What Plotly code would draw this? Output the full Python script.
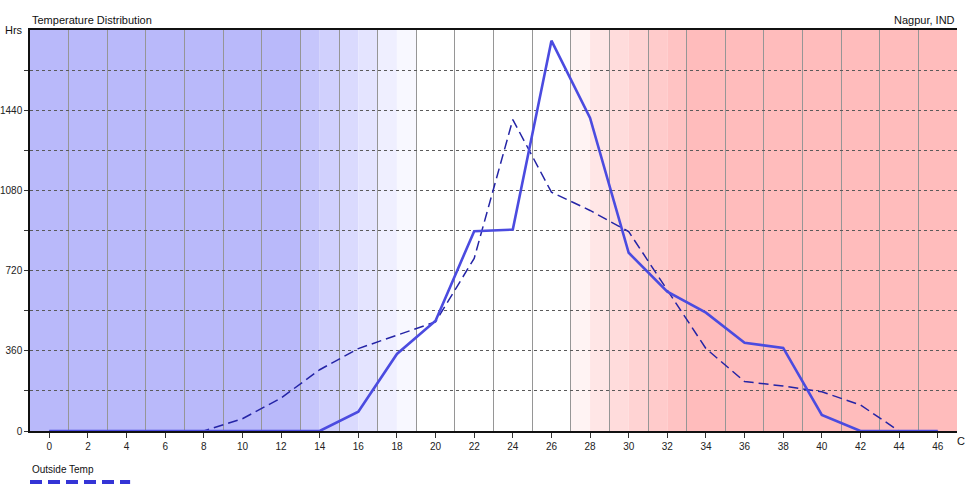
import plotly.graph_objects as go

# ---- data ----
temps = [0, 2, 4, 6, 8, 10, 12, 14, 16, 18, 20, 22, 24, 26, 28, 30, 32, 34, 36, 38, 40, 42, 44, 46]
hours_solid = [0, 0, 0, 0, 0, 0, 0, 0, 87, 346, 495, 897, 904, 1752, 1405, 800, 625, 531, 396, 373, 72, 0, 0, 0]
hours_outside = [0, 0, 0, 0, 0, 55, 148, 275, 370, 430, 490, 775, 1398, 1072, 990, 895, 630, 370, 222, 202, 176, 117, 0, 0]
x_ticks = list(range(0, 47, 2))
x_grid = list(range(-1, 48, 2))
y_ticks = [0, 360, 720, 1080, 1440]
y_minor = [180, 540, 900, 1260, 1620]

# background comfort bands (per degree)
band_edges = [-1, 13, 14, 15, 16, 17, 18, 19, 27, 28, 29, 30, 31, 32, 33, 47]
band_colors = ["#b9b9fa", "#c6c6fc", "#d0d0fd", "#dadafe", "#e4e4ff", "#efefff", "#f8f8ff",
               "#ffffff", "#fff3f3", "#ffe6e6", "#ffdcdc", "#ffd3d3", "#ffcbcb", "#ffc3c3", "#ffbcbc"]

FONT = "Liberation Sans Narrow, Liberation Sans, Arial, sans-serif"

fig = go.Figure()

fig.add_trace(go.Scatter(
    x=temps, y=hours_outside, mode="lines", name="Outside Temp",
    line=dict(color="#2424a6", width=1.5, dash="10px,5px"),
    showlegend=False,
))
fig.add_trace(go.Scatter(
    x=temps, y=hours_solid, mode="lines", name="Temperature",
    line=dict(color="#4b4be0", width=2.6),
    showlegend=False,
))

shapes = []
for i, c in enumerate(band_colors):
    shapes.append(dict(type="rect", xref="x", yref="y", x0=band_edges[i], x1=band_edges[i + 1],
                       y0=0, y1=1800, fillcolor=c, line=dict(width=0), layer="below"))
# legend sample (decoration)
shapes.append(dict(type="line", xref="paper", yref="paper", x0=0.0, x1=0.108, y0=-0.127, y1=-0.127,
                   line=dict(color="#3434d6", width=4, dash="12px,6px")))

fig.update_layout(
    width=971, height=486,
    margin=dict(l=30, r=14, t=30, b=55),
    paper_bgcolor="white", plot_bgcolor="white",
    font=dict(family=FONT, size=10, color="#222"),
    shapes=shapes,
    xaxis=dict(
        range=[-1, 47], tickvals=x_ticks, ticktext=[str(v) for v in x_ticks],
        showgrid=False, zeroline=False, automargin=False,
        showline=True, linecolor="#111", linewidth=1.5, mirror=True,
        ticks="outside", ticklen=5, tickcolor="#333",
        minor=dict(tickvals=x_grid, showgrid=True, gridcolor="#969696", gridwidth=1, ticks=""),
        tickfont=dict(family=FONT, size=10, color="#222"),
    ),
    yaxis=dict(
        range=[0, 1800], tickvals=y_ticks, ticktext=[str(v) for v in y_ticks],
        showgrid=True, gridcolor="#5a5a5a", gridwidth=1, griddash="dot", zeroline=False,
        showline=True, linecolor="#111", linewidth=1.5, automargin=False,
        ticks="outside", ticklen=4, tickcolor="#333",
        minor=dict(tickvals=y_minor, showgrid=True, gridcolor="#5a5a5a",
                   griddash="dot", ticks="outside", ticklen=4, tickcolor="#333"),
        tickfont=dict(family=FONT, size=10, color="#222"),
    ),
    annotations=[
        dict(text="Temperature Distribution", xref="paper", yref="paper", x=0, y=1, xanchor="left",
             yanchor="bottom", yshift=2, showarrow=False, font=dict(family=FONT, size=11, color="#111")),
        dict(text="Nagpur, IND", xref="paper", yref="paper", x=1, y=1, xanchor="right",
             yanchor="bottom", yshift=2, showarrow=False, font=dict(family=FONT, size=11, color="#111")),
        dict(text="Hrs", xref="paper", yref="paper", x=0, y=1, xanchor="right", xshift=-5,
             yanchor="middle", showarrow=False, font=dict(family=FONT, size=11, color="#111")),
        dict(text="C", xref="paper", yref="paper", x=1, y=0, xanchor="left", xshift=-2,
             yanchor="top", yshift=-2, showarrow=False, font=dict(family=FONT, size=11, color="#111")),
        dict(text="Outside Temp", xref="paper", yref="paper", x=0, y=-0.095, xanchor="left",
             yanchor="middle", showarrow=False, font=dict(family=FONT, size=10, color="#111")),
    ],
)

fig.write_html("out.html", config={"displayModeBar": False},
               post_script="document.body.style.margin='0';document.body.style.overflow='hidden';")
